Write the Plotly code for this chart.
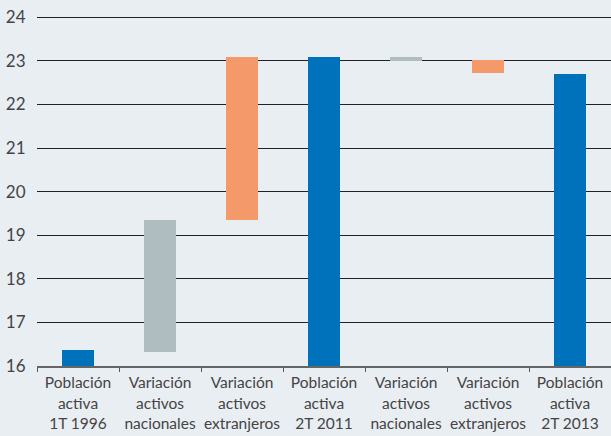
import plotly.graph_objects as go

categories = ["Población<br>activa<br>1T 1996", "Variación<br>activos<br>nacionales",
              "Variación<br>activos<br>extranjeros", "Población<br>activa<br>2T 2011",
              "Variación<br>activos<br>nacionales", "Variación<br>activos<br>extranjeros",
              "Población<br>activa<br>2T 2013"]
bar_bottom = [0, 16.33, 19.36, 0, 23.0, 23.02, 0]
bar_top = [16.37, 19.36, 23.08, 23.08, 23.09, 22.72, 22.70]
bar_colors = ["#0072BC", "#AFBDC1", "#F49A6A", "#0072BC", "#AFBDC1", "#F49A6A", "#0072BC"]
y_ticks = [16, 17, 18, 19, 20, 21, 22, 23, 24]

x = list(range(len(categories)))
fig = go.Figure(go.Bar(
    x=x, base=bar_bottom, y=[t - b for t, b in zip(bar_top, bar_bottom)],
    marker=dict(color=bar_colors, line=dict(width=0)), width=0.39,
))
bg = "#E9EEF3"
fig.update_layout(
    width=611, height=436, margin=dict(l=37, r=0, t=13, b=70),
    paper_bgcolor=bg, plot_bgcolor=bg, showlegend=False,
    font=dict(family="Lato", size=15, color="#444444"),
    bargap=0,
)
fig.update_xaxes(
    range=[-0.5, 6.5], tickvals=x, ticktext=categories, ticks="",
    showgrid=False, showline=True, linecolor="#666666", linewidth=1.5,
    minor=dict(tickvals=[i - 0.5 for i in range(8)], ticks="outside", ticklen=4,
               tickcolor="#555555", tickwidth=1, showgrid=False),
    tickfont=dict(size=15.5, color="#444444"), automargin=False, ticklabelstandoff=2,
)
fig.update_yaxes(
    range=[16, 24.1], tickvals=y_ticks, showgrid=True, gridcolor="#222222", gridwidth=1,
    zeroline=False, ticks="outside", ticklen=7, tickcolor=bg,
    tickfont=dict(size=17, color="#444444"), automargin=False,
)
fig.write_html("out.html", config={"displayModeBar": False},
               post_script="document.body.style.margin='0';document.body.style.background='%s';" % bg)
